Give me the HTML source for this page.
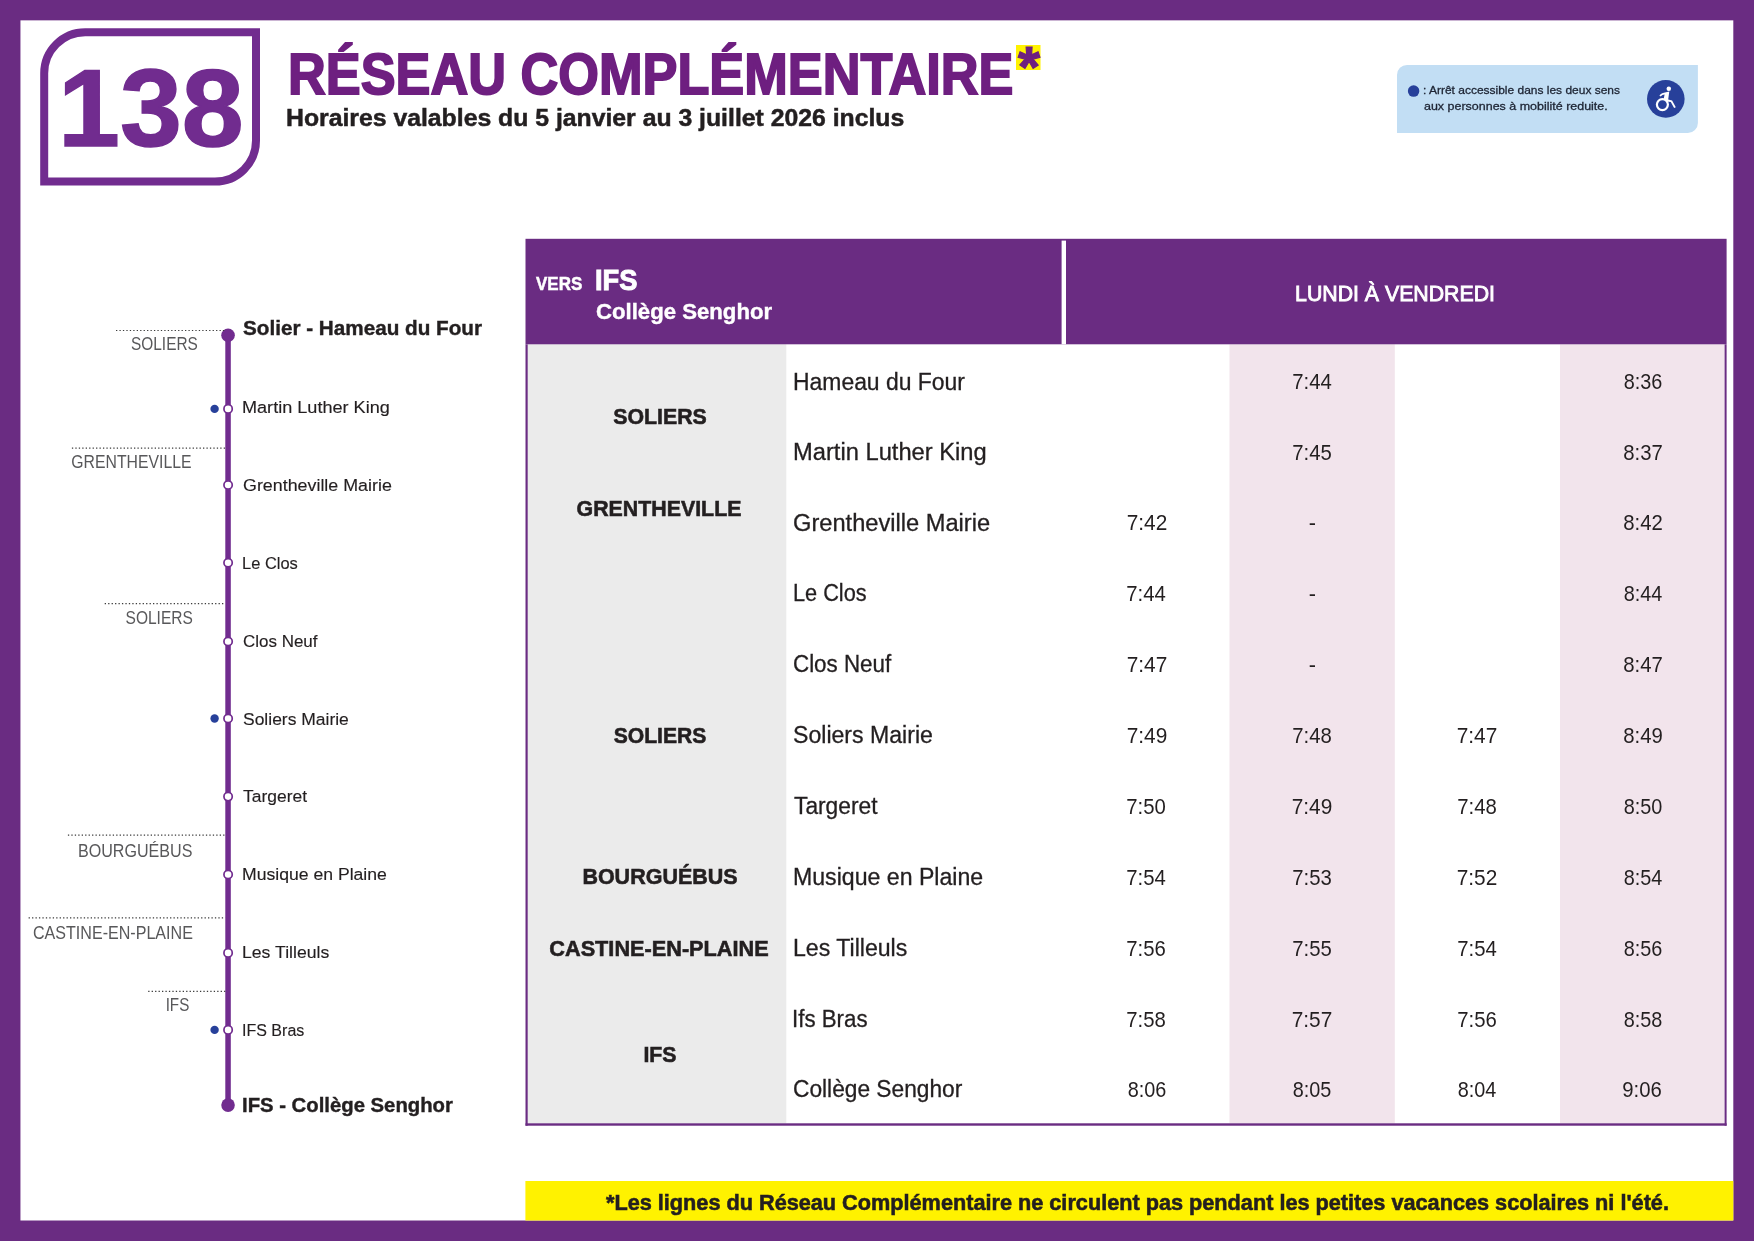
<!DOCTYPE html>
<html lang="fr">
<head>
<meta charset="utf-8">
<title>Ligne 138 - Réseau complémentaire</title>
<style>
html,body{margin:0;padding:0;}
body{width:1754px;height:1241px;overflow:hidden;background:#6a2c82;font-family:"Liberation Sans", sans-serif;}
.page{position:relative;width:1754px;height:1241px;overflow:hidden;background:#6a2c82;}
.sheet{position:absolute;left:20.4px;top:20.3px;width:1712.9px;height:1200.1px;background:#fff;}
.t{position:absolute;white-space:nowrap;line-height:1em;margin:0;padding:0;font-family:"Liberation Sans", sans-serif;}
.abs{position:absolute;}
.txt{position:absolute;left:0;top:0;width:1754px;height:1241px;will-change:transform;transform:translateZ(0);}
</style>
</head>
<body>
<div class="page">
<svg class="abs bg" style="left:0;top:0;" width="1754" height="1241" viewBox="0 0 1754 1241">
<!-- white sheet on purple frame -->
<rect x="20.45" y="20.35" width="1712.85" height="1200.15" fill="#fff"/>
<!-- line badge -->
<path d="M85.2 32.2H256.0V140.6A41 41 0 0 1 215.0 181.6H44.2V73.2A41 41 0 0 1 85.2 32.2Z" fill="none" stroke="#712c8f" stroke-width="8"/>
<!-- asterisk highlight -->
<rect x="1016" y="45" width="24.50" height="25.00" fill="#fff200"/>
<!-- accessibility legend -->
<path d="M1407 64.9H1697.9V123.0A10 10 0 0 1 1687.9 133.0H1397V74.9A10 10 0 0 1 1407 64.9Z" fill="#c2def4"/>
<circle cx="1413.6" cy="91.1" r="5.75" fill="#27409a"/>
<circle cx="1665.8" cy="98.9" r="18.8" fill="#27409a"/>
<circle cx="1668.8" cy="88.7" r="2.25" fill="#fff"/>
<circle cx="1662.4" cy="104.6" r="5.5" fill="none" stroke="#fff" stroke-width="2.2"/>
<path d="M1669.3 91.6 L1666.0 92.2 C1663.2 92.5 1660.8 93.6 1659.4 95.6 L1660.6 96.6 C1661.8 95.2 1663.2 94.6 1664.6 94.5 L1663.6 99.2 L1666.6 101.4 L1670.8 102.0 L1674.1 108.1 L1675.8 107.2 L1672.1 100.4 L1668.2 99.4 Z" fill="#fff"/>
<!-- route diagram -->
<rect x="225.3" y="335" width="5.5" height="770" fill="#712c8f"/>
<circle cx="228.05" cy="335.3" r="6.8" fill="#712c8f"/>
<circle cx="228.05" cy="1105.1" r="6.8" fill="#712c8f"/>
<circle cx="228.1" cy="408.9" r="4.15" fill="#fff" stroke="#712c8f" stroke-width="1.7"/>
<circle cx="228.1" cy="485.0" r="4.15" fill="#fff" stroke="#712c8f" stroke-width="1.7"/>
<circle cx="228.1" cy="562.8" r="4.15" fill="#fff" stroke="#712c8f" stroke-width="1.7"/>
<circle cx="228.1" cy="641.5" r="4.15" fill="#fff" stroke="#712c8f" stroke-width="1.7"/>
<circle cx="228.1" cy="718.5" r="4.15" fill="#fff" stroke="#712c8f" stroke-width="1.7"/>
<circle cx="228.1" cy="796.6" r="4.15" fill="#fff" stroke="#712c8f" stroke-width="1.7"/>
<circle cx="228.1" cy="874.5" r="4.15" fill="#fff" stroke="#712c8f" stroke-width="1.7"/>
<circle cx="228.1" cy="952.9" r="4.15" fill="#fff" stroke="#712c8f" stroke-width="1.7"/>
<circle cx="228.1" cy="1029.9" r="4.15" fill="#fff" stroke="#712c8f" stroke-width="1.7"/>
<circle cx="214.6" cy="408.9" r="4.2" fill="#27409a"/>
<circle cx="214.6" cy="718.5" r="4.2" fill="#27409a"/>
<circle cx="214.6" cy="1029.9" r="4.2" fill="#27409a"/>
<line x1="116" y1="330.5" x2="225.3" y2="330.5" stroke="#3c3c3c" stroke-width="1.2" stroke-dasharray="1.3 2.15"/>
<line x1="71.9" y1="448.2" x2="225.3" y2="448.2" stroke="#3c3c3c" stroke-width="1.2" stroke-dasharray="1.3 2.15"/>
<line x1="104.7" y1="603.6" x2="225.3" y2="603.6" stroke="#3c3c3c" stroke-width="1.2" stroke-dasharray="1.3 2.15"/>
<line x1="67.9" y1="835.1" x2="225.3" y2="835.1" stroke="#3c3c3c" stroke-width="1.2" stroke-dasharray="1.3 2.15"/>
<line x1="28.6" y1="917.8" x2="225.3" y2="917.8" stroke="#3c3c3c" stroke-width="1.2" stroke-dasharray="1.3 2.15"/>
<line x1="148.2" y1="991.3" x2="225.3" y2="991.3" stroke="#3c3c3c" stroke-width="1.2" stroke-dasharray="1.3 2.15"/>
<!-- timetable -->
<rect x="527.7" y="344.3" width="258.60" height="779.00" fill="#ebebeb"/>
<rect x="1229.5" y="344.3" width="165.30" height="779.00" fill="#f2e4ec"/>
<rect x="1560" y="344.3" width="164.60" height="779.00" fill="#f2e4ec"/>
<rect x="525.5" y="238.8" width="1201.10" height="105.50" fill="#6a2c82"/>
<rect x="1061.6" y="240.6" width="4.40" height="103.70" fill="#fff"/>
<rect x="525.5" y="344.3" width="2.20" height="781.40" fill="#6a2c82"/>
<rect x="1724.6" y="344.3" width="2.00" height="781.40" fill="#6a2c82"/>
<rect x="525.5" y="1123.3" width="1201.10" height="2.40" fill="#6a2c82"/>
<!-- footer note -->
<rect x="525.4" y="1181" width="1207.90" height="39.50" fill="#fff200"/>
</svg>
<div class="txt">
<div class="t num" style="top:53.00px;font-size:110.2px;font-weight:700;color:#712c8f;left:57.95px;transform-origin:0 50%;transform:scaleX(1.0099);-webkit-text-stroke:1.4px #712c8f;">138</div>
<div class="t title" style="top:47.00px;font-size:56.5px;font-weight:700;color:#6e1f80;left:288.36px;transform-origin:0 50%;transform:scaleX(0.9257);-webkit-text-stroke:1.8px #6e1f80;">RÉSEAU COMPLÉMENTAIRE</div>
<div class="t star" style="top:39.00px;font-size:57px;font-weight:700;color:#6e1f80;left:1017.80px;transform-origin:0 50%;transform:scaleX(0.9917);-webkit-text-stroke:1.2px #6e1f80;">*</div>
<div class="t sub" style="top:106.00px;font-size:24.7px;font-weight:700;color:#231f20;left:286.35px;transform-origin:0 50%;transform:scaleX(1.0035);-webkit-text-stroke:0.5px #231f20;">Horaires valables du 5 janvier au 3 juillet 2026 inclus</div>
<div class="t leg" style="top:84.00px;font-size:11.7px;font-weight:400;color:#1d2433;left:1422.63px;transform-origin:0 50%;transform:scaleX(1.0244);-webkit-text-stroke:0.3px #1d2433;">: Arrêt accessible dans les deux sens</div>
<div class="t leg" style="top:100.00px;font-size:11.7px;font-weight:400;color:#1d2433;left:1423.66px;transform-origin:0 50%;transform:scaleX(1.0672);-webkit-text-stroke:0.3px #1d2433;">aux personnes à mobilité reduite.</div>
<div class="t term" style="top:318.00px;font-size:20.5px;font-weight:700;color:#231f20;left:243.30px;transform-origin:0 50%;transform:scaleX(1.0087);-webkit-text-stroke:0.4px #231f20;">Solier - Hameau du Four</div>
<div class="t term" style="top:1095.00px;font-size:20.5px;font-weight:700;color:#231f20;left:242.31px;transform-origin:0 50%;transform:scaleX(0.9901);-webkit-text-stroke:0.4px #231f20;">IFS - Collège Senghor</div>
<div class="t stop" style="top:399.00px;font-size:17.4px;font-weight:400;color:#231f20;left:242.14px;transform-origin:0 50%;transform:scaleX(1.0400);-webkit-text-stroke:0.15px #231f20;">Martin Luther King</div>
<div class="t stop" style="top:477.00px;font-size:17.4px;font-weight:400;color:#231f20;left:243.18px;transform-origin:0 50%;transform:scaleX(1.0266);-webkit-text-stroke:0.15px #231f20;">Grentheville Mairie</div>
<div class="t stop" style="top:555.00px;font-size:17.4px;font-weight:400;color:#231f20;left:242.22px;transform-origin:0 50%;transform:scaleX(0.9466);-webkit-text-stroke:0.15px #231f20;">Le Clos</div>
<div class="t stop" style="top:633.00px;font-size:17.4px;font-weight:400;color:#231f20;left:243.17px;transform-origin:0 50%;transform:scaleX(0.9756);-webkit-text-stroke:0.15px #231f20;">Clos Neuf</div>
<div class="t stop" style="top:711.00px;font-size:17.4px;font-weight:400;color:#231f20;left:243.18px;transform-origin:0 50%;transform:scaleX(1.0046);-webkit-text-stroke:0.15px #231f20;">Soliers Mairie</div>
<div class="t stop" style="top:788.00px;font-size:17.4px;font-weight:400;color:#231f20;left:243.18px;transform-origin:0 50%;transform:scaleX(1.0029);-webkit-text-stroke:0.15px #231f20;">Targeret</div>
<div class="t stop" style="top:866.00px;font-size:17.4px;font-weight:400;color:#231f20;left:242.16px;transform-origin:0 50%;transform:scaleX(1.0123);-webkit-text-stroke:0.15px #231f20;">Musique en Plaine</div>
<div class="t stop" style="top:944.00px;font-size:17.4px;font-weight:400;color:#231f20;left:242.16px;transform-origin:0 50%;transform:scaleX(1.0140);-webkit-text-stroke:0.15px #231f20;">Les Tilleuls</div>
<div class="t stop" style="top:1022.00px;font-size:17.4px;font-weight:400;color:#231f20;left:242.25px;transform-origin:0 50%;transform:scaleX(0.9210);-webkit-text-stroke:0.15px #231f20;">IFS Bras</div>
<div class="t city" style="top:335.00px;font-size:18.2px;font-weight:400;color:#58585a;right:1556.59px;transform-origin:100% 50%;transform:scaleX(0.8474);">SOLIERS</div>
<div class="t city" style="top:453.00px;font-size:18.2px;font-weight:400;color:#58585a;right:1562.59px;transform-origin:100% 50%;transform:scaleX(0.8675);">GRENTHEVILLE</div>
<div class="t city" style="top:609.00px;font-size:18.2px;font-weight:400;color:#58585a;right:1561.19px;transform-origin:100% 50%;transform:scaleX(0.8538);">SOLIERS</div>
<div class="t city" style="top:842.00px;font-size:18.2px;font-weight:400;color:#58585a;right:1561.18px;transform-origin:100% 50%;transform:scaleX(0.8844);">BOURGUÉBUS</div>
<div class="t city" style="top:924.00px;font-size:18.2px;font-weight:400;color:#58585a;right:1561.48px;transform-origin:100% 50%;transform:scaleX(0.8840);">CASTINE-EN-PLAINE</div>
<div class="t city" style="top:996.00px;font-size:18.2px;font-weight:400;color:#58585a;right:1564.49px;transform-origin:100% 50%;transform:scaleX(0.8357);">IFS</div>
<div class="t vers" style="top:274.00px;font-size:19.0px;font-weight:700;color:#fff;left:536.12px;transform-origin:0 50%;transform:scaleX(0.8940);-webkit-text-stroke:0.5px #fff;">VERS</div>
<div class="t dest" style="top:264.00px;font-size:30.4px;font-weight:700;color:#fff;left:595.45px;transform-origin:0 50%;transform:scaleX(0.8977);-webkit-text-stroke:1.0px #fff;">IFS</div>
<div class="t dest2" style="top:301.00px;font-size:22.6px;font-weight:700;color:#fff;left:595.90px;transform-origin:0 50%;transform:scaleX(0.9810);-webkit-text-stroke:0.4px #fff;">Collège Senghor</div>
<div class="t days" style="top:283.00px;font-size:22.6px;font-weight:400;color:#fff;left:1395.33px;transform-origin:50% 50%;transform:translateX(-50%) scaleX(0.9422);-webkit-text-stroke:0.9px #fff;">LUNDI À VENDREDI</div>
<div class="t sn" style="top:371.00px;font-size:23.0px;font-weight:400;color:#231f20;left:792.55px;transform-origin:0 50%;transform:scaleX(0.9963);-webkit-text-stroke:0.3px #231f20;">Hameau du Four</div>
<div class="t sn" style="top:441.00px;font-size:23.0px;font-weight:400;color:#231f20;left:792.52px;transform-origin:0 50%;transform:scaleX(1.0309);-webkit-text-stroke:0.3px #231f20;">Martin Luther King</div>
<div class="t sn" style="top:512.00px;font-size:23.0px;font-weight:400;color:#231f20;left:792.53px;transform-origin:0 50%;transform:scaleX(1.0281);-webkit-text-stroke:0.3px #231f20;">Grentheville Mairie</div>
<div class="t sn" style="top:582.00px;font-size:23.0px;font-weight:400;color:#231f20;left:792.60px;transform-origin:0 50%;transform:scaleX(0.9429);-webkit-text-stroke:0.3px #231f20;">Le Clos</div>
<div class="t sn" style="top:653.00px;font-size:23.0px;font-weight:400;color:#231f20;left:792.57px;transform-origin:0 50%;transform:scaleX(0.9723);-webkit-text-stroke:0.3px #231f20;">Clos Neuf</div>
<div class="t sn" style="top:724.00px;font-size:23.0px;font-weight:400;color:#231f20;left:792.55px;transform-origin:0 50%;transform:scaleX(1.0042);-webkit-text-stroke:0.3px #231f20;">Soliers Mairie</div>
<div class="t sn" style="top:795.00px;font-size:23.0px;font-weight:400;color:#231f20;left:793.55px;transform-origin:0 50%;transform:scaleX(0.9896);-webkit-text-stroke:0.3px #231f20;">Targeret</div>
<div class="t sn" style="top:866.00px;font-size:23.0px;font-weight:400;color:#231f20;left:792.55px;transform-origin:0 50%;transform:scaleX(1.0051);-webkit-text-stroke:0.3px #231f20;">Musique en Plaine</div>
<div class="t sn" style="top:937.00px;font-size:23.0px;font-weight:400;color:#231f20;left:792.55px;transform-origin:0 50%;transform:scaleX(1.0045);-webkit-text-stroke:0.3px #231f20;">Les Tilleuls</div>
<div class="t sn" style="top:1008.00px;font-size:23.0px;font-weight:400;color:#231f20;left:791.61px;transform-origin:0 50%;transform:scaleX(0.9688);-webkit-text-stroke:0.3px #231f20;">Ifs Bras</div>
<div class="t sn" style="top:1078.00px;font-size:23.0px;font-weight:400;color:#231f20;left:792.56px;transform-origin:0 50%;transform:scaleX(0.9878);-webkit-text-stroke:0.3px #231f20;">Collège Senghor</div>
<div class="t tc" style="top:405.00px;font-size:22.9px;font-weight:700;color:#231f20;left:659.92px;transform-origin:50% 50%;transform:translateX(-50%) scaleX(0.9304);-webkit-text-stroke:0.6px #231f20;">SOLIERS</div>
<div class="t tc" style="top:497.00px;font-size:22.9px;font-weight:700;color:#231f20;left:659.42px;transform-origin:50% 50%;transform:translateX(-50%) scaleX(0.9322);-webkit-text-stroke:0.6px #231f20;">GRENTHEVILLE</div>
<div class="t tc" style="top:724.00px;font-size:22.9px;font-weight:700;color:#231f20;left:660.32px;transform-origin:50% 50%;transform:translateX(-50%) scaleX(0.9225);-webkit-text-stroke:0.6px #231f20;">SOLIERS</div>
<div class="t tc" style="top:865.00px;font-size:22.9px;font-weight:700;color:#231f20;left:659.86px;transform-origin:50% 50%;transform:translateX(-50%) scaleX(0.9389);-webkit-text-stroke:0.6px #231f20;">BOURGUÉBUS</div>
<div class="t tc" style="top:937.00px;font-size:22.9px;font-weight:700;color:#231f20;left:659.33px;transform-origin:50% 50%;transform:translateX(-50%) scaleX(0.9479);-webkit-text-stroke:0.6px #231f20;">CASTINE-EN-PLAINE</div>
<div class="t tc" style="top:1043.00px;font-size:22.9px;font-weight:700;color:#231f20;left:659.96px;transform-origin:50% 50%;transform:translateX(-50%) scaleX(0.9301);-webkit-text-stroke:0.6px #231f20;">IFS</div>
<div class="t tm" style="top:371.00px;font-size:21.6px;font-weight:400;color:#231f20;left:1311.73px;transform-origin:50% 50%;transform:translateX(-50%) scaleX(0.9410);">7:44</div>
<div class="t tm" style="top:371.00px;font-size:21.6px;font-weight:400;color:#231f20;left:1642.50px;transform-origin:50% 50%;transform:translateX(-50%) scaleX(0.9186);">8:36</div>
<div class="t tm" style="top:442.00px;font-size:21.6px;font-weight:400;color:#231f20;left:1311.73px;transform-origin:50% 50%;transform:translateX(-50%) scaleX(0.9410);">7:45</div>
<div class="t tm" style="top:442.00px;font-size:21.6px;font-weight:400;color:#231f20;left:1642.97px;transform-origin:50% 50%;transform:translateX(-50%) scaleX(0.9410);">8:37</div>
<div class="t tm" style="top:512.00px;font-size:21.6px;font-weight:400;color:#231f20;left:1146.90px;transform-origin:50% 50%;transform:translateX(-50%) scaleX(0.9646);">7:42</div>
<div class="t tm" style="top:512.00px;font-size:21.6px;font-weight:400;color:#231f20;left:1312.30px;transform-origin:50% 50%;transform:translateX(-50%) scaleX(1.0000);">-</div>
<div class="t tm" style="top:512.00px;font-size:21.6px;font-weight:400;color:#231f20;left:1642.97px;transform-origin:50% 50%;transform:translateX(-50%) scaleX(0.9410);">8:42</div>
<div class="t tm" style="top:583.00px;font-size:21.6px;font-weight:400;color:#231f20;left:1146.43px;transform-origin:50% 50%;transform:translateX(-50%) scaleX(0.9410);">7:44</div>
<div class="t tm" style="top:583.00px;font-size:21.6px;font-weight:400;color:#231f20;left:1312.30px;transform-origin:50% 50%;transform:translateX(-50%) scaleX(1.0000);">-</div>
<div class="t tm" style="top:583.00px;font-size:21.6px;font-weight:400;color:#231f20;left:1642.50px;transform-origin:50% 50%;transform:translateX(-50%) scaleX(0.9186);">8:44</div>
<div class="t tm" style="top:654.00px;font-size:21.6px;font-weight:400;color:#231f20;left:1146.90px;transform-origin:50% 50%;transform:translateX(-50%) scaleX(0.9646);">7:47</div>
<div class="t tm" style="top:654.00px;font-size:21.6px;font-weight:400;color:#231f20;left:1312.30px;transform-origin:50% 50%;transform:translateX(-50%) scaleX(1.0000);">-</div>
<div class="t tm" style="top:654.00px;font-size:21.6px;font-weight:400;color:#231f20;left:1642.97px;transform-origin:50% 50%;transform:translateX(-50%) scaleX(0.9410);">8:47</div>
<div class="t tm" style="top:725.00px;font-size:21.6px;font-weight:400;color:#231f20;left:1146.90px;transform-origin:50% 50%;transform:translateX(-50%) scaleX(0.9646);">7:49</div>
<div class="t tm" style="top:725.00px;font-size:21.6px;font-weight:400;color:#231f20;left:1311.73px;transform-origin:50% 50%;transform:translateX(-50%) scaleX(0.9410);">7:48</div>
<div class="t tm" style="top:725.00px;font-size:21.6px;font-weight:400;color:#231f20;left:1477.40px;transform-origin:50% 50%;transform:translateX(-50%) scaleX(0.9646);">7:47</div>
<div class="t tm" style="top:725.00px;font-size:21.6px;font-weight:400;color:#231f20;left:1642.97px;transform-origin:50% 50%;transform:translateX(-50%) scaleX(0.9410);">8:49</div>
<div class="t tm" style="top:796.00px;font-size:21.6px;font-weight:400;color:#231f20;left:1146.43px;transform-origin:50% 50%;transform:translateX(-50%) scaleX(0.9410);">7:50</div>
<div class="t tm" style="top:796.00px;font-size:21.6px;font-weight:400;color:#231f20;left:1312.20px;transform-origin:50% 50%;transform:translateX(-50%) scaleX(0.9646);">7:49</div>
<div class="t tm" style="top:796.00px;font-size:21.6px;font-weight:400;color:#231f20;left:1476.93px;transform-origin:50% 50%;transform:translateX(-50%) scaleX(0.9410);">7:48</div>
<div class="t tm" style="top:796.00px;font-size:21.6px;font-weight:400;color:#231f20;left:1642.50px;transform-origin:50% 50%;transform:translateX(-50%) scaleX(0.9186);">8:50</div>
<div class="t tm" style="top:867.00px;font-size:21.6px;font-weight:400;color:#231f20;left:1146.43px;transform-origin:50% 50%;transform:translateX(-50%) scaleX(0.9410);">7:54</div>
<div class="t tm" style="top:867.00px;font-size:21.6px;font-weight:400;color:#231f20;left:1311.73px;transform-origin:50% 50%;transform:translateX(-50%) scaleX(0.9410);">7:53</div>
<div class="t tm" style="top:867.00px;font-size:21.6px;font-weight:400;color:#231f20;left:1477.40px;transform-origin:50% 50%;transform:translateX(-50%) scaleX(0.9646);">7:52</div>
<div class="t tm" style="top:867.00px;font-size:21.6px;font-weight:400;color:#231f20;left:1642.50px;transform-origin:50% 50%;transform:translateX(-50%) scaleX(0.9186);">8:54</div>
<div class="t tm" style="top:938.00px;font-size:21.6px;font-weight:400;color:#231f20;left:1146.43px;transform-origin:50% 50%;transform:translateX(-50%) scaleX(0.9410);">7:56</div>
<div class="t tm" style="top:938.00px;font-size:21.6px;font-weight:400;color:#231f20;left:1311.73px;transform-origin:50% 50%;transform:translateX(-50%) scaleX(0.9410);">7:55</div>
<div class="t tm" style="top:938.00px;font-size:21.6px;font-weight:400;color:#231f20;left:1476.93px;transform-origin:50% 50%;transform:translateX(-50%) scaleX(0.9410);">7:54</div>
<div class="t tm" style="top:938.00px;font-size:21.6px;font-weight:400;color:#231f20;left:1642.50px;transform-origin:50% 50%;transform:translateX(-50%) scaleX(0.9186);">8:56</div>
<div class="t tm" style="top:1009.00px;font-size:21.6px;font-weight:400;color:#231f20;left:1146.43px;transform-origin:50% 50%;transform:translateX(-50%) scaleX(0.9410);">7:58</div>
<div class="t tm" style="top:1009.00px;font-size:21.6px;font-weight:400;color:#231f20;left:1312.20px;transform-origin:50% 50%;transform:translateX(-50%) scaleX(0.9646);">7:57</div>
<div class="t tm" style="top:1009.00px;font-size:21.6px;font-weight:400;color:#231f20;left:1476.93px;transform-origin:50% 50%;transform:translateX(-50%) scaleX(0.9410);">7:56</div>
<div class="t tm" style="top:1009.00px;font-size:21.6px;font-weight:400;color:#231f20;left:1642.50px;transform-origin:50% 50%;transform:translateX(-50%) scaleX(0.9186);">8:58</div>
<div class="t tm" style="top:1079.00px;font-size:21.6px;font-weight:400;color:#231f20;left:1146.90px;transform-origin:50% 50%;transform:translateX(-50%) scaleX(0.9186);">8:06</div>
<div class="t tm" style="top:1079.00px;font-size:21.6px;font-weight:400;color:#231f20;left:1312.20px;transform-origin:50% 50%;transform:translateX(-50%) scaleX(0.9186);">8:05</div>
<div class="t tm" style="top:1079.00px;font-size:21.6px;font-weight:400;color:#231f20;left:1477.40px;transform-origin:50% 50%;transform:translateX(-50%) scaleX(0.9186);">8:04</div>
<div class="t tm" style="top:1079.00px;font-size:21.6px;font-weight:400;color:#231f20;left:1642.03px;transform-origin:50% 50%;transform:translateX(-50%) scaleX(0.9410);">9:06</div>
<div class="t foot" style="top:1191.00px;font-size:22.9px;font-weight:700;color:#231f20;left:606.28px;transform-origin:0 50%;transform:scaleX(0.9470);-webkit-text-stroke:0.6px #231f20;">*Les lignes du Réseau Complémentaire ne circulent pas pendant les petites vacances scolaires ni l'été.</div>
</div>
</div>
</body>
</html>
